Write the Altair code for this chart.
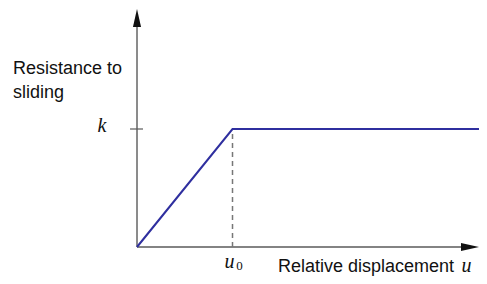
import altair as alt
import pandas as pd

# ---- data (units: u0 = 1, k = 1) ----
curve_u = [0.0, 1.0, 3.581]
curve_r = [0.0, 1.0, 1.0]
u0 = 1.0
k = 1.0
x_axis_end = 3.44
y_axis_end = 1.88
x_arrow_pos = 3.487
y_arrow_pos = 1.941
y_label_lines = ["Resistance to", "sliding"]
x_label = "Relative displacement"

XDOM = [-1.3508, 3.581]
YDOM = [-0.2458, 2.0254]

def X(f="x"):
    return alt.X(f"{f}:Q", scale=alt.Scale(domain=XDOM, nice=False, zero=False), axis=None)

def Y(f="y"):
    return alt.Y(f"{f}:Q", scale=alt.Scale(domain=YDOM, nice=False, zero=False), axis=None)

axis_color = "#5a5a5a"

yaxis = alt.Chart(pd.DataFrame({"x": [0.0], "y": [0.0], "y2": [y_axis_end]})).mark_rule(
    color=axis_color, strokeWidth=1.4).encode(x=X(), y=Y(), y2="y2:Q")
xaxis = alt.Chart(pd.DataFrame({"x": [0.0], "x2": [x_axis_end], "y": [0.0]})).mark_rule(
    color=axis_color, strokeWidth=1.4).encode(x=X(), x2="x2:Q", y=Y())

arrows = alt.Chart(pd.DataFrame({
    "x": [0.0, x_arrow_pos],
    "y": [y_arrow_pos, 0.0],
    "shape": ["M0,-1L0.45,1L-0.45,1Z", "M1,0L-1,-0.45L-1,0.45Z"],
})).mark_point(filled=True, color="#111111", opacity=1, size=324, strokeWidth=0).encode(
    x=X(), y=Y(), shape=alt.Shape("shape:N", scale=None))

tick = alt.Chart(pd.DataFrame({"x": [-0.073], "x2": [0.063], "y": [k]})).mark_rule(
    color=axis_color, strokeWidth=1.2).encode(x=X(), x2="x2:Q", y=Y())

dash = alt.Chart(pd.DataFrame({"x": [u0], "y": [0.0], "y2": [k]})).mark_rule(
    color="#777777", strokeWidth=1.5, strokeDash=[5, 4]).encode(x=X(), y=Y(), y2="y2:Q")

curve = alt.Chart(pd.DataFrame({"x": curve_u, "y": curve_r})).mark_line(
    color="#2f2f9f", strokeWidth=2).encode(x=X(), y=Y())

ylab = alt.Chart(pd.DataFrame({"x": [-1.298, -1.298], "y": [1.466, 1.263], "t": y_label_lines})).mark_text(
    align="left", baseline="alphabetic", font="Liberation Sans", fontSize=18, color="#111111").encode(
    x=X(), y=Y(), text="t:N")

klab = alt.Chart(pd.DataFrame({"x": [-0.366], "y": [1.025], "t": ["k"]})).mark_text(
    align="center", baseline="middle", font="Liberation Serif", fontStyle="italic", fontSize=20,
    color="#111111").encode(x=X(), y=Y(), text="t:N")

u0lab = alt.Chart(pd.DataFrame({"x": [0.968], "y": [-0.175], "t": ["u"]})).mark_text(
    align="center", baseline="alphabetic", font="Liberation Serif", fontStyle="italic", fontSize=20,
    color="#111111").encode(x=X(), y=Y(), text="t:N")
u0sub = alt.Chart(pd.DataFrame({"x": [1.073], "y": [-0.197], "t": ["0"]})).mark_text(
    align="center", baseline="alphabetic", font="Liberation Serif", fontSize=13,
    color="#111111").encode(x=X(), y=Y(), text="t:N")

xlab = alt.Chart(pd.DataFrame({"x": [1.476], "y": [-0.208], "t": [x_label]})).mark_text(
    align="left", baseline="alphabetic", font="Liberation Sans", fontSize=18, color="#111111").encode(
    x=X(), y=Y(), text="t:N")
xlab_u = alt.Chart(pd.DataFrame({"x": [3.45], "y": [-0.208], "t": ["u"]})).mark_text(
    align="center", baseline="alphabetic", font="Liberation Serif", fontStyle="italic", fontSize=20,
    color="#111111").encode(x=X(), y=Y(), text="t:N")

chart = alt.layer(yaxis, xaxis, tick, dash, curve, arrows, ylab, klab, u0lab, u0sub, xlab, xlab_u).properties(
    width=471, height=268, padding=0, autosize=alt.AutoSizeParams(type="none"),
    background="white").configure_view(stroke=None)

chart.save("out.html", embed_options={"renderer": "svg", "actions": False})
